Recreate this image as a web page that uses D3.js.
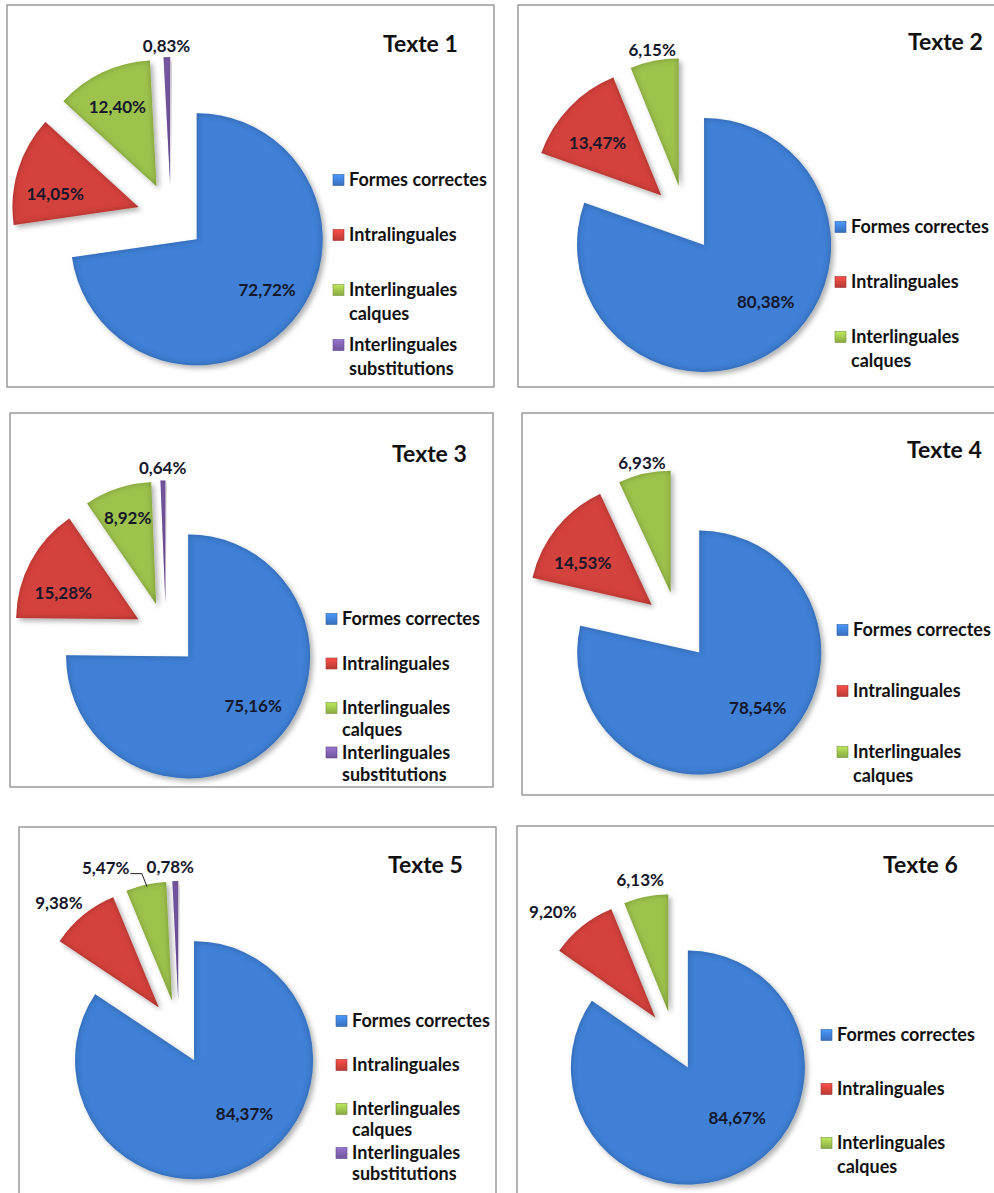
<!DOCTYPE html>
<html>
<head>
<meta charset="utf-8">
<script src="https://cdn.jsdelivr.net/npm/d3@7"></script>
<style>
  body { margin: 0; background: #fff; }
  text { font-family: Lato, "Open Sans", sans-serif; font-weight: bold; fill: #111; }
</style>
</head>
<body>
<div id="charts"></div>
<script>
// categories shared by all six pies
var categories = ["Formes correctes", "Intralinguales", "Interlinguales calques", "Interlinguales substitutions"];
var titles = ["Texte 1", "Texte 2", "Texte 3", "Texte 4", "Texte 5", "Texte 6"];

// percentages per text (same order as categories)
var texte1 = [72.72, 14.05, 12.40, 0.83];
var texte2 = [80.38, 13.47, 6.15];
var texte3 = [75.16, 15.28, 8.92, 0.64];
var texte4 = [78.54, 14.53, 6.93];
var texte5 = [84.37, 9.38, 5.47, 0.78];
var texte6 = [84.67, 9.20, 6.13];
var series = [texte1, texte2, texte3, texte4, texte5, texte6];

var colors = ['#3f80d6', '#d4433d', '#9ec34d', '#8161b0'];

// layout of each panel: box, pie centre/radius/explosion, title, legend [x, first row, row step, line height],
// label polar offsets [radius factor, angle shift]
var panels = [
  {box: [7, 5, 487, 382],   cx: 171, cy: 217,  r: 126, ex: 34, title: [383, 52],  legend: [333, 180, 55, 24],
   labels: [[.69, -5], [.67, -8], [.70, -1], [1.085, 0]]},
  {box: [518, 5, 490, 382], cx: 685, cy: 218,  r: 127, ex: 33, title: [908, 50],  legend: [835, 227, 55, 24],
   labels: [[.66, -12], [.65, -4], [1.087, 0]]},
  {box: [10, 413, 483, 374], cx: 166, cy: 634, r: 122, ex: 31.5, title: [392, 462], legend: [326, 619, 44.5, 22],
   labels: [[.67, -8], [.65, -9], [.74, 0], [1.10, 0]]},
  {box: [522, 413, 480, 382], cx: 678, cy: 626, r: 122, ex: 34, title: [907, 458], legend: [837, 630, 61, 24],
   labels: [[.66, -8], [.66, -7.6], [1.09, 0]]},
  {box: [19, 827, 477, 380], cx: 179, cy: 1032, r: 119, ex: 32, title: [388, 873], legend: [336, 1021, 44, 21],
   labels: [[.62, -15], [1.21, -4.5], [1.25, -13.8], [1.12, -2]], leader: 2},
  {box: [517, 826, 490, 380], cx: 674, cy: 1041, r: 117, ex: 30, title: [883, 873], legend: [821, 1035, 54, 24],
   labels: [[.60, -17], [1.26, -5.4], [1.15, -1]]}
];

var fmt = function (v) { return v.toFixed(2).replace('.', ',') + '%'; };

var svg = d3.select('#charts').append('svg')
    .attr('width', 994)
    .attr('height', 1193);

// bevel-ish rim + soft shadow like the office chart
var defs = svg.append('defs');
var f = defs.append('filter').attr('id', 'fx')
    .attr('x', '-20%').attr('y', '-20%').attr('width', '140%').attr('height', '140%');
f.append('feGaussianBlur').attr('in', 'SourceAlpha').attr('stdDeviation', 3).attr('result', 'blur');
f.append('feComposite').attr('in', 'SourceAlpha').attr('in2', 'blur').attr('operator', 'out').attr('result', 'rim');
f.append('feFlood').attr('flood-color', '#000').attr('flood-opacity', 0.5);
f.append('feComposite').attr('in2', 'rim').attr('operator', 'in').attr('result', 'rimShade');
f.append('feOffset').attr('in', 'SourceAlpha').attr('dx', 3).attr('dy', 3).attr('result', 'off');
f.append('feGaussianBlur').attr('in', 'off').attr('stdDeviation', 2.5).attr('result', 'shBlur');
f.append('feFlood').attr('flood-color', '#000').attr('flood-opacity', 0.3);
f.append('feComposite').attr('in2', 'shBlur').attr('operator', 'in').attr('result', 'shadow');
var m = f.append('feMerge');
m.append('feMergeNode').attr('in', 'shadow');
m.append('feMergeNode').attr('in', 'SourceGraphic');
m.append('feMergeNode').attr('in', 'rimShade');

// legend keys: small gradient squares
colors.forEach(function (c, j) {
  var lg = defs.append('linearGradient').attr('id', 'key' + j)
      .attr('x1', 0).attr('y1', 0).attr('x2', 0).attr('y2', 1);
  lg.append('stop').attr('offset', '0%').attr('stop-color', d3.color(c).brighter(0.5));
  lg.append('stop').attr('offset', '100%').attr('stop-color', d3.color(c).darker(0.4));
});

var pie = d3.pie().sort(null).value(function (d) { return d; });

panels.forEach(function (p, i) {
  var data = series[i];
  var g = svg.append('g');

  g.append('rect')
      .attr('x', p.box[0]).attr('y', p.box[1])
      .attr('width', p.box[2]).attr('height', p.box[3])
      .attr('fill', '#fff').attr('stroke', '#8c8c8c').attr('stroke-width', 1.3);

  var arc = d3.arc().innerRadius(0).outerRadius(p.r);
  var arcs = pie(data);
  var dir = function (a) { return [Math.sin(a), -Math.cos(a)]; };

  var slices = g.append('g').attr('transform', 'translate(' + p.cx + ',' + p.cy + ')');

  slices.selectAll('path')
      .data(arcs)
    .enter().append('path')
      .attr('d', arc)
      .attr('transform', function (d) {
        var v = dir((d.startAngle + d.endAngle) / 2);
        return 'translate(' + v[0] * p.ex + ',' + v[1] * p.ex + ')';
      })
      .attr('fill', function (d, j) { return colors[j]; })
      .attr('filter', 'url(#fx)');

  // data labels
  slices.selectAll('text.lbl')
      .data(arcs)
    .enter().append('text')
      .attr('class', 'lbl')
      .each(function (d, j) {
        var mid = (d.startAngle + d.endAngle) / 2;
        var apex = dir(mid);
        var lp = p.labels[j];
        var a = mid + lp[1] * Math.PI / 180;
        var v = dir(a);
        var x = apex[0] * p.ex + v[0] * p.r * lp[0];
        var y = apex[1] * p.ex + v[1] * p.r * lp[0];
        d3.select(this)
            .attr('x', x).attr('y', y).attr('dy', '0.35em')
            .attr('text-anchor', 'middle')
            .style('font-size', '17px')
            .style('fill', '#15172a')
            .text(fmt(d.data));
        if (p.leader === j) {
          var w = this.getComputedTextLength();
          var end = [apex[0] * p.ex + apex[0] * p.r, apex[1] * p.ex + apex[1] * p.r];
          slices.append('path')
              .attr('d', 'M' + (x + w / 2 + 1) + ',' + (y + 6) + 'H' + (end[0] - 4) + 'L' + (end[0] + 1) + ',' + (end[1] + 2))
              .attr('fill', 'none').attr('stroke', '#222').attr('stroke-width', 1);
        }
      });

  g.append('text')
      .attr('x', p.title[0]).attr('y', p.title[1])
      .style('font-size', '23px')
      .text(titles[i]);

  // legend
  var leg = g.append('g');
  var rowY = p.legend[1];
  data.forEach(function (v, j) {
    leg.append('rect')
        .attr('x', p.legend[0]).attr('y', rowY - 5.5)
        .attr('width', 11).attr('height', 11)
        .attr('fill', 'url(#key' + j + ')')
        .attr('stroke', d3.color(colors[j]).darker(0.8)).attr('stroke-width', 0.6);
    var t = leg.append('text')
        .attr('x', p.legend[0] + 16).attr('y', rowY).attr('dy', '0.35em')
        .style('font-size', '18px')
        .text(categories[j]);
    wrap(t, 152, p.legend[0] + 16, p.legend[3]);
    rowY += p.legend[2];
  });
});

function wrap(text, width, x, lineHeight) {
  var words = text.text().split(/\s+/).reverse(),
      word,
      line = [],
      lineNumber = 0,
      y = text.attr('y'),
      tspan = text.text(null).append('tspan').attr('x', x).attr('y', y).attr('dy', '0.35em');
  while (word = words.pop()) {
    line.push(word);
    tspan.text(line.join(' '));
    if (tspan.node().getComputedTextLength() > width) {
      line.pop();
      tspan.text(line.join(' '));
      line = [word];
      tspan = text.append('tspan').attr('x', x).attr('y', +y + (++lineNumber) * lineHeight).attr('dy', '0.35em').text(word);
    }
  }
  return lineNumber + 1;
}
</script>
</body>
</html>
